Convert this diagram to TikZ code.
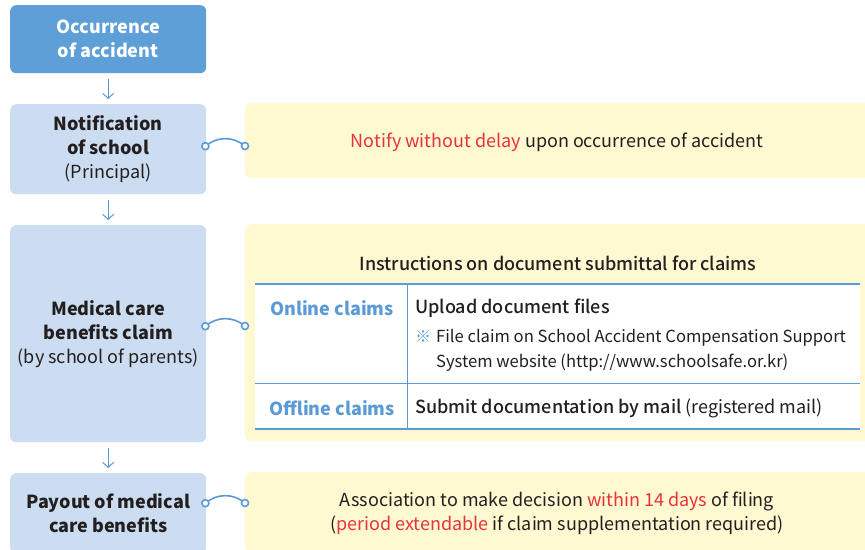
\documentclass[tikz,border=0pt]{standalone}
\usepackage{fontspec}
\setmainfont{Noto Sans CJK KR}
\newfontfamily\mediumfont{Noto Sans CJK KR Medium}
\usepackage{xcolor}
\usetikzlibrary{arrows.meta, positioning}

\definecolor{stepdark}{HTML}{5E9FD8}
\definecolor{steplight}{HTML}{CCDDF1}
\definecolor{notepale}{HTML}{FFF9D1}
\definecolor{warnred}{HTML}{E8323C}
\definecolor{inkgray}{HTML}{231F20}
\definecolor{linkblue}{HTML}{5B9BD5}

\tikzset{
  stepbox/.style={rectangle, rounded corners=6pt, fill=steplight, minimum width=196pt, align=center, font=\fontsize{18}{24}\selectfont},
  notebox/.style={rectangle, rounded corners=6pt, fill=notepale, minimum width=625pt, anchor=north west},
  flow/.style={draw=linkblue, line width=1pt, -{Straight Barb[length=5pt,width=11pt]}, shorten <=6pt, shorten >=5pt},
  link/.style={draw=linkblue, line width=1.6pt},
  dot/.style={draw=linkblue, fill=white, line width=1.6pt},
  rulebar/.style={draw=linkblue, line width=1.4pt},
  rulethin/.style={draw=linkblue, line width=0.8pt}
}

\begin{document}
\begin{tikzpicture}[x=1pt, y=-1pt, every node/.style={inner sep=0pt, text=inkgray, font=\fontsize{18}{24}\selectfont}]
\clip (0,0) rectangle (865,549);
\fill[white] (0,0) rectangle (865,549);

% left column
\node (occur) [stepbox, fill=stepdark, text=white, anchor=north west, minimum height=68pt] at (10,5) {\bfseries Occurrence\\\bfseries of accident};
\node (notif) [stepbox, anchor=north west, minimum height=90pt] at (10,104) {\bfseries Notification\\\bfseries of school\\(Principal)};
\node (claim) [stepbox, anchor=north west, minimum height=217pt] at (10,225) {\bfseries Medical care\\\bfseries benefits claim\\(by school of parents)};
\node (payout) [stepbox, anchor=north west, minimum height=80pt] at (10,473) {\bfseries Payout of medical\\\bfseries care benefits};

\draw[flow] (occur) -- (notif);
\draw[flow] (notif) -- (claim);
\draw[flow] (claim) -- (payout);

% right column
\node (notify) [notebox, minimum height=75pt] at (245,103) {};
\node at (557,142) {{\color{warnred}Notify without delay} upon occurrence of accident};

\node (docs) [notebox, minimum height=217pt] at (245,224) {};
\node (doctitle) [font=\fontsize{18}{24}\mediumfont] at (558,263) {Instructions on document submittal for claims};
\fill[white] (255,284) rectangle (860,429);
\draw[rulebar] (255,284) -- (860,284);
\draw[rulethin] (255,383) -- (860,383);
\draw[rulebar] (255,429) -- (860,429);
\draw[rulethin] (407,284) -- (407,429);
\node (online) [text=linkblue, font=\fontsize{18}{24}\selectfont\bfseries] at (332,308) {Online claims};
\node (offline) [text=linkblue, font=\fontsize{18}{24}\selectfont\bfseries] at (332,408) {Offline claims};
\node (upload) [anchor=west, font=\fontsize{18}{24}\mediumfont] at (415,308) {Upload document files};
\node (refmark) [anchor=west, text=linkblue, font=\fontsize{16}{24}\selectfont] at (415,337) {※};
\node (website) [anchor=north west, align=left, font=\fontsize{16.6}{25}\selectfont] at (436,329) {File claim on School Accident Compensation Support\\System website (http://www.schoolsafe.or.kr)};
\node (mail) [anchor=west] at (415,408) {{\mediumfont Submit documentation by mail} (registered mail)};

\node (decide) [notebox, minimum height=80pt] at (245,472) {};
\node (decidetxt) [align=center] at (557,513) {Association to make decision {\color{warnred}within 14 days} of filing\\({\color{warnred}period extendable} if claim supplementation required)};

% connectors
\coordinate (l1) at ([xshift=-1pt, yshift=3pt]notif.east);
\coordinate (r1) at (245,146);
\coordinate (l2) at ([xshift=-1pt, yshift=7.5pt]claim.east);
\coordinate (r2) at (245,326);
\coordinate (l3) at ([xshift=-1pt, yshift=10pt]payout.east);
\coordinate (r3) at (245,503);
\foreach \a/\b in {l1/r1, l2/r2, l3/r3} {
  \draw[link] (\a) to[bend left=40] (\b);
  \draw[dot] (\a) circle (3.5pt) (\b) circle (3.5pt);
}
\end{tikzpicture}
\end{document}
